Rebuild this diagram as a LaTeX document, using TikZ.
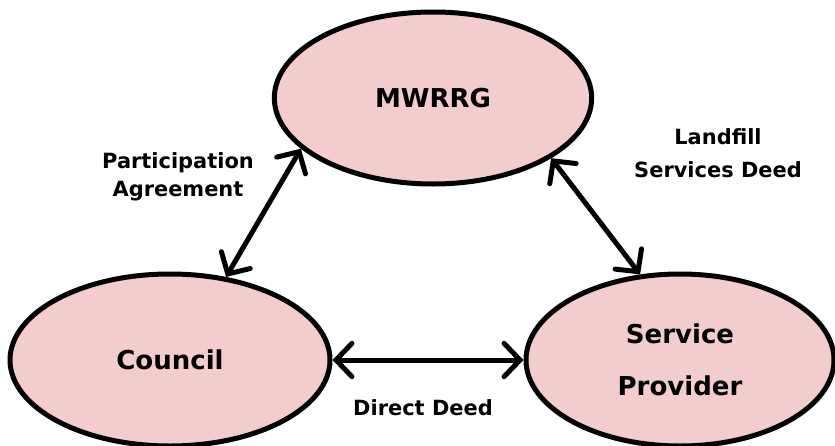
\documentclass[tikz,border=0pt]{standalone}
\usepackage{fontspec}
\setmainfont{DejaVu Sans}
\usetikzlibrary{shapes.geometric,arrows.meta}
\definecolor{partypink}{RGB}{243,204,205}

\begin{document}
\begin{tikzpicture}[x=0.75pt,y=-0.75pt,
    party/.style={ellipse,draw=black,line width=3.75pt,fill=partypink,
                  inner sep=0pt,minimum width=#1,minimum height=129pt,
                  align=center,font=\bfseries\fontsize{19.5}{39}\selectfont},
    deed/.style={line width=3.75pt,
                 {Straight Barb[length=12pt,width=25pt,line cap=round]}-{Straight Barb[length=12pt,width=25pt,line cap=round]}},
    deedtext/.style={align=center,font=\bfseries\fontsize{15.7}{21}\selectfont}]
  \useasboundingbox (0,0) rectangle (835,446);
  \node[party=238pt] (M) at (433,98) {MWRRG};
  \node[party=240pt] (C) at (170,360) {Council};
  \node[party=231pt] (S) at (680,360) {Service\\Provider};
  % agreements between the three parties
  \draw[deed] (C.56) -- (M.201);
  \draw[deed] (M.333) -- (S.115);
  \draw[deed] (C.east) -- (S.west);
  \node[deedtext] (pa) at (178,177) {Participation\\Agreement};
  \node[deedtext,font=\bfseries\fontsize{15.7}{25}\selectfont] (ls) at (718,153) {Landfill\\Services Deed};
  \node[deedtext] (dd) at (423,408) {Direct Deed};
\end{tikzpicture}
\end{document}
